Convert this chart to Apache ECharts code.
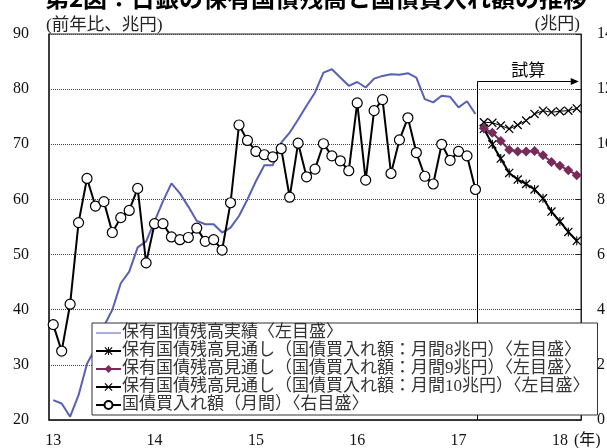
<!DOCTYPE html>
<html>
<head>
<meta charset="utf-8">
<script src="https://cdn.jsdelivr.net/npm/echarts@6/dist/echarts.min.js"></script>
<style>
html,body{margin:0;padding:0;background:#fff}
#chart{width:607px;height:448px}
</style>
</head>
<body>
<div id="chart"></div>
<script>
// 月次 2013/1 ～ 2018/3
const months = [];
for (let y = 2013; y <= 2018; y++) {
  for (let m = 1; m <= 12; m++) {
    if (y < 2018 || m <= 3) months.push(y + '/' + m);
  }
}
const yearLabels = ['13', '14', '15', '16', '17', '18'];

// 保有国債残高実績（前年比、兆円） 2013/1～2017/3
const actual = [23.6, 23.0, 20.6, 24.5, 30.2, 33.0, 37.0, 40.0, 44.8, 46.9,
  51.3, 52.4, 56.0, 59.7, 62.9, 61.1, 58.7, 56.1, 55.5, 55.5,
  54.0, 54.9, 57.0, 60.0, 63.3, 66.2, 66.2, 70.3, 72.1, 74.5,
  77.0, 79.4, 83.0, 83.6, 82.1, 80.6, 81.3, 80.3, 81.9, 82.4,
  82.7, 82.6, 82.9, 82.1, 78.2, 77.6, 78.8, 78.6, 76.7, 77.8, 75.5];

// 国債買入れ額（月間、兆円） 2013/1～2017/3
const purchase = [3.46, 2.50, 4.20, 7.16, 8.76, 7.76, 7.92, 6.80, 7.34, 7.60,
  8.40, 5.70, 7.12, 7.12, 6.64, 6.54, 6.62, 6.96, 6.48, 6.54,
  6.16, 7.88, 10.70, 10.14, 9.74, 9.62, 9.54, 9.84, 8.08, 10.04,
  8.82, 9.10, 10.02, 9.58, 9.40, 9.04, 11.50, 8.70, 11.22, 11.62,
  8.94, 10.16, 10.96, 9.70, 8.84, 8.56, 10.00, 9.42, 9.74, 9.58, 8.36];

// 見通し 2017/4～2018/3
const proj8 = [72.8, 70.0, 67.4, 64.8, 63.6, 62.8, 61.8, 60.2, 57.8, 56.0, 54.1, 52.5];
const proj9 = [72.9, 72.1, 70.6, 69.0, 68.7, 68.7, 68.8, 68.0, 66.8, 66.1, 65.3, 64.4];
const proj10 = [74.0, 73.9, 73.4, 72.8, 73.5, 74.3, 75.5, 76.1, 75.8, 76.0, 76.1, 76.5];

const projStart = actual.length;
const pad = (arr, start) => months.map((_, i) =>
  (i >= start && i < start + arr.length) ? arr[i - start] : null);

const serif = '"Liberation Serif", "Noto Sans CJK JP", serif';
const cjk = '"Noto Sans CJK JP", sans-serif';

// 「*」「×」マーカー
const xMark = 'path://M0,1 L1,0 L10,9 L9,10 Z M9,0 L10,1 L1,10 L0,9 Z';
const starMark = xMark + ' M4.4,0 L5.6,0 L5.6,10 L4.4,10 Z';
// 凡例用の線だけのアイコン
const lineIcon = 'path://M0,0 L0.01,0 L0.01,0.01 Z M0,4.4 L25,4.4 L25,5.6 L0,5.6 Z M25,10 L24.99,10 L24.99,9.99 Z';

const names = [
  '保有国債残高実績〈左目盛〉',
  '保有国債残高見通し（国債買入れ額：月間8兆円）〈左目盛〉',
  '保有国債残高見通し（国債買入れ額：月間9兆円）〈左目盛〉',
  '保有国債残高見通し（国債買入れ額：月間10兆円）〈左目盛〉',
  '国債買入れ額（月間）〈右目盛〉'
];

const chart = echarts.init(document.getElementById('chart'));

chart.setOption({
  animation: false,
  grid: {
    left: 49, right: 26, top: 34, bottom: 28,
    outerBoundsMode: 'none',
    containLabel: false,
    show: true, borderColor: '#222', borderWidth: 1
  },
  legend: {
    orient: 'vertical',
    left: 92, top: 323,
    padding: [1, 8, 1, 3],
    itemGap: 0,
    itemWidth: 25,
    itemHeight: 10,
    backgroundColor: '#fff',
    borderColor: '#333',
    borderWidth: 1,
    selectedMode: false,
    textStyle: { fontFamily: serif, fontSize: 17, lineHeight: 18, color: '#333', padding: [0, 0, 0, -4] },
    data: [{ name: names[0], icon: lineIcon }, names[1], names[2], names[3], names[4]]
  },
  xAxis: {
    type: 'category',
    data: months,
    boundaryGap: true,
    axisLine: { lineStyle: { color: '#222', width: 1.5 } },
    axisTick: {
      inside: true, length: 5,
      interval: (i) => i % 12 === 0,
      lineStyle: { color: '#222' }
    },
    axisLabel: {
      interval: (i) => i % 12 === 0,
      formatter: (v, i) => yearLabels[i / 12],
      fontFamily: serif, fontSize: 16, color: '#111', margin: 13
    },
    splitLine: { show: false }
  },
  yAxis: [
    {
      type: 'value', min: 20, max: 90, interval: 10,
      axisLine: { show: true, lineStyle: { color: '#222', width: 1.5 } },
      axisTick: { show: false },
      axisLabel: { fontFamily: serif, fontSize: 16, color: '#111', margin: 20 },
      splitLine: { show: true, lineStyle: { type: [1, 1], color: '#444', width: 1 } }
    },
    {
      type: 'value', min: 0, max: 14, interval: 2, position: 'right',
      axisLine: { show: true, lineStyle: { color: '#222', width: 1 } },
      axisTick: { show: true, inside: true, length: 5, lineStyle: { color: '#222' } },
      axisLabel: { fontFamily: serif, fontSize: 16, color: '#111', margin: 16 },
      splitLine: { show: false }
    }
  ],
  series: [
    {
      name: names[0],
      type: 'line', yAxisIndex: 0,
      data: pad(actual, 0),
      symbol: 'none',
      lineStyle: { color: '#5860b4', width: 2 },
      itemStyle: { color: '#5860b4' }
    },
    {
      name: names[1],
      type: 'line', yAxisIndex: 0,
      data: pad(proj8, projStart),
      symbol: starMark, symbolSize: 9, showAllSymbol: true,
      lineStyle: { color: '#000', width: 2 },
      itemStyle: { color: '#000' }
    },
    {
      name: names[2],
      type: 'line', yAxisIndex: 0,
      data: pad(proj9, projStart),
      symbol: 'diamond', symbolSize: 10, showAllSymbol: true,
      lineStyle: { color: '#782a5a', width: 2 },
      itemStyle: { color: '#782a5a' }
    },
    {
      name: names[3],
      type: 'line', yAxisIndex: 0,
      data: pad(proj10, projStart),
      symbol: xMark, symbolSize: 9, showAllSymbol: true,
      lineStyle: { color: '#000', width: 1 },
      itemStyle: { color: '#000' }
    },
    {
      name: names[4],
      type: 'line', yAxisIndex: 1,
      data: pad(purchase, 0),
      symbol: 'circle', symbolSize: 10, showAllSymbol: true,
      lineStyle: { color: '#000', width: 2 },
      itemStyle: { color: '#fff', borderColor: '#000', borderWidth: 1.2 }
    }
  ]
});

// 試算区間の区切り線と矢印
const xa = chart.convertToPixel({ xAxisIndex: 0 }, months[projStart - 1]);
const xb = chart.convertToPixel({ xAxisIndex: 0 }, months[projStart]);
const xs = Math.round(xa + (xb - xa) * 0.2) + 0.5;
const xEnd = chart.convertToPixel({ xAxisIndex: 0 }, months[months.length - 1]) + 2;
const yTop = Math.round(chart.convertToPixel({ yAxisIndex: 0 }, 81.4)) + 0.5;
const yBot = chart.convertToPixel({ yAxisIndex: 0 }, 20);

chart.setOption({
  graphic: [
    { type: 'text', x: 316, y: -2, style: { text: '第2図：日銀の保有国債残高と国債買入れ額の推移', font: 'bold 24px ' + cjk, fill: '#000', textAlign: 'center', textVerticalAlign: 'middle' } },
    { type: 'text', x: 46, y: 25, style: { text: '(前年比、兆円)', font: '17.5px ' + serif, fill: '#222', textAlign: 'left', textVerticalAlign: 'middle' } },
    { type: 'text', x: 580, y: 25, style: { text: '(兆円)', font: '17px ' + serif, fill: '#222', textAlign: 'right', textVerticalAlign: 'middle' } },
    { type: 'text', x: 574, y: 441, style: { text: '(年)', font: '16px ' + serif, fill: '#111', textAlign: 'left', textVerticalAlign: 'middle' } },
    { type: 'line', shape: { x1: xs, y1: yTop, x2: xs, y2: yBot }, style: { stroke: '#000', lineWidth: 1 } },
    { type: 'line', shape: { x1: xs, y1: yTop, x2: xEnd - 6, y2: yTop }, style: { stroke: '#000', lineWidth: 1 } },
    { type: 'polygon', shape: { points: [[xEnd - 8, yTop - 3.5], [xEnd, yTop], [xEnd - 8, yTop + 3.5]] }, style: { fill: '#000' } },
    { type: 'text', x: (xs + xEnd) / 2, y: yTop - 12, style: { text: '試算', font: '17px ' + cjk, fill: '#000', textAlign: 'center', textVerticalAlign: 'middle' } }
  ]
});
</script>
</body>
</html>
